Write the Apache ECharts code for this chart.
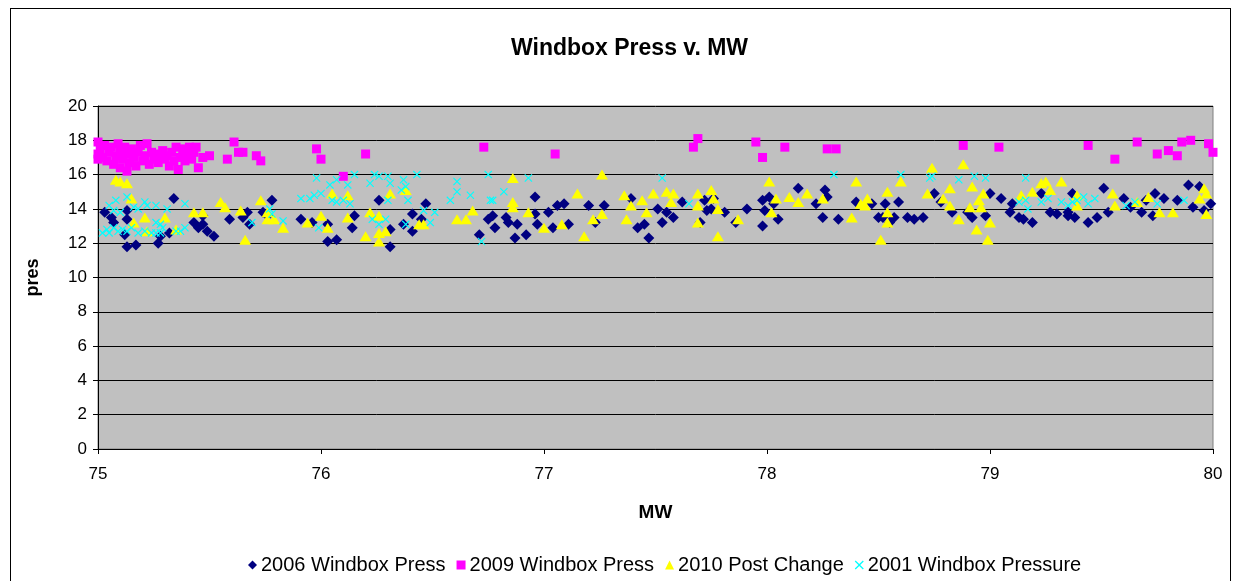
<!DOCTYPE html>
<html>
<head>
<meta charset="utf-8">
<script src="https://cdn.jsdelivr.net/npm/echarts@6/dist/echarts.min.js"></script>
<style>
  html, body { margin: 0; padding: 0; background: #fff; }
  #frame { position: absolute; left: 10px; top: 8px; width: 1221px; height: 600px; border: 1px solid #000; box-sizing: border-box; }
  #chart { position: absolute; left: 0; top: 0; width: 1238px; height: 581px; }
</style>
</head>
<body>
<div id="frame"></div>
<div id="chart"></div>
<script>
  // [MW, pres] pairs
  let press2006 = [
    [75.03,13.8],[75.06,13.5],[75.07,13.2],[75.13,13.9],[75.13,13.4],[75.13,11.8],[75.17,11.9],[75.12,12.5],
    [75.27,12.0],[75.28,12.4],[75.32,12.6],[75.34,14.6],[75.43,13.2],[75.45,12.9],[75.47,13.1],[75.49,12.7],
    [75.52,12.4],[75.47,13.6],[75.59,13.4],[75.65,13.5],[75.67,13.8],[75.68,13.1],[75.74,13.8],[75.78,14.5],
    [75.76,13.6],[75.91,13.4],[75.96,13.2],[76.03,12.1],[76.07,12.2],[76.03,13.1],[76.15,13.6],[76.14,12.9],
    [76.26,14.5],[76.31,12.8],[76.31,11.8],[76.37,13.1],[76.41,13.7],[76.41,12.7],[76.47,14.3],[76.45,13.4],
    [76.71,12.5],[76.75,13.4],[76.77,13.6],[76.78,12.9],[76.83,13.5],[76.84,13.2],[76.87,12.3],[76.88,13.1],
    [76.92,12.5],[76.96,14.7],[76.96,13.7],[76.97,13.1],[77.02,13.8],[77.04,12.9],[77.06,14.2],[77.09,14.3],
    [77.11,13.1],[77.2,14.2],[77.27,14.2],[77.23,13.2],[77.39,14.6],[77.42,12.9],[77.45,13.1],[77.47,12.3],
    [77.51,14.0],[77.55,13.8],[77.58,13.5],[77.53,13.2],[77.62,14.4],[77.72,14.5],[77.76,14.6],[77.73,13.9],
    [77.75,14.0],[77.81,13.8],[77.7,13.2],[77.86,13.2],[77.91,14.0],[77.98,14.5],[77.99,13.9],[77.98,13.0],
    [78.01,14.7],[78.03,14.3],[78.05,13.4],[78.14,15.2],[78.22,14.3],[78.26,15.1],[78.27,14.7],[78.25,13.5],
    [78.32,13.4],[78.4,14.4],[78.47,14.3],[78.5,13.5],[78.53,14.3],[78.59,14.4],[78.52,13.5],[78.57,13.5],
    [78.55,13.2],[78.63,13.5],[78.66,13.4],[78.7,13.5],[78.75,14.9],[78.78,14.4],[78.83,13.8],[78.9,13.8],
    [78.92,13.5],[79.0,14.9],[79.05,14.6],[79.1,14.3],[79.09,13.8],[79.13,13.5],[79.15,13.4],[79.19,13.2],
    [79.23,14.9],[79.27,13.8],[79.3,13.7],[79.35,13.6],[79.37,14.9],[78.98,13.6],[79.35,13.8],[79.38,13.5],
    [79.44,13.2],[79.48,13.5],[79.51,15.2],[79.53,13.8],[79.6,14.6],[79.63,14.1],[79.68,13.8],[79.7,14.5],
    [79.74,14.9],[79.73,13.6],[79.78,14.6],[79.84,14.5],[79.89,15.4],[79.91,14.1],[79.94,15.3],[79.96,13.9],
    [79.99,14.3]
  ];
  let press2009 = [
    [75.0,17.9],[75.0,17.2],[75.0,16.9],[75.01,17.5],[75.02,17.0],[75.03,17.7],[75.04,16.8],[75.05,17.3],
    [75.06,17.6],[75.07,16.6],[75.08,17.1],[75.09,17.8],[75.1,16.4],[75.1,17.4],[75.11,16.9],[75.12,17.6],
    [75.13,16.2],[75.13,17.2],[75.14,16.7],[75.15,17.5],[75.16,17.0],[75.17,16.5],[75.18,17.3],[75.19,17.7],
    [75.2,16.8],[75.21,17.1],[75.22,17.8],[75.23,16.6],[75.24,17.3],[75.25,16.9],[75.26,17.2],[75.27,16.7],
    [75.28,17.0],[75.29,17.4],[75.3,16.9],[75.31,17.1],[75.32,16.5],[75.33,17.3],[75.34,16.8],[75.35,17.6],
    [75.36,16.3],[75.37,17.0],[75.38,17.5],[75.39,16.8],[75.4,17.2],[75.41,17.6],[75.42,16.9],[75.43,17.3],
    [75.44,17.6],[75.45,16.4],[75.47,17.0],[75.5,17.1],[75.58,16.9],[75.61,17.9],[75.63,17.3],[75.65,17.3],
    [75.71,17.1],[75.73,16.8],[75.98,17.5],[76.0,16.9],[76.1,15.9],[76.2,17.2],[76.73,17.6],[77.05,17.2],
    [77.67,17.6],[77.69,18.1],[77.95,17.9],[77.98,17.0],[78.08,17.6],[78.27,17.5],[78.31,17.5],[78.88,17.7],
    [79.04,17.6],[79.44,17.7],[79.56,16.9],[79.66,17.9],[79.75,17.2],[79.8,17.4],[79.84,17.1],[79.86,17.9],
    [79.9,18.0],[79.98,17.8],[80.0,17.3]
  ];
  let post2010 = [
    [75.08,15.7],[75.1,15.6],[75.13,15.5],[75.15,14.6],[75.16,13.2],[75.21,13.5],[75.3,13.5],[75.22,12.7],
    [75.35,12.8],[75.43,13.8],[75.47,13.8],[75.55,14.4],[75.57,14.1],[75.64,13.9],[75.66,12.2],[75.73,14.5],
    [75.76,13.4],[75.79,13.4],[75.83,12.9],[75.76,13.8],[75.94,13.2],[76.0,13.6],[76.03,12.9],[76.05,14.9],
    [76.12,14.8],[76.12,13.5],[76.2,12.4],[76.22,13.8],[76.26,13.6],[76.26,12.6],[76.26,12.1],[76.29,12.7],
    [76.31,14.9],[76.38,15.1],[76.44,13.1],[76.46,13.1],[76.61,13.4],[76.65,13.4],[76.68,13.9],[76.86,15.8],
    [76.86,14.4],[76.86,14.1],[76.93,13.8],[77.0,12.9],[77.08,13.1],[77.15,14.9],[77.18,12.4],[77.22,13.4],
    [77.26,13.7],[77.26,16.0],[77.36,14.8],[77.37,13.4],[77.39,14.2],[77.44,14.5],[77.46,13.8],[77.49,14.9],
    [77.55,15.0],[77.58,14.9],[77.57,14.4],[77.69,14.9],[77.75,15.1],[77.69,14.2],[77.76,14.6],[77.78,14.0],
    [77.69,13.2],[77.78,12.4],[77.87,13.4],[78.01,15.6],[78.04,14.6],[78.02,13.8],[78.1,14.7],[78.14,14.4],
    [78.18,14.9],[78.25,14.6],[78.38,13.5],[78.4,15.6],[78.42,14.3],[78.44,14.2],[78.45,14.6],[78.51,12.2],
    [78.54,15.0],[78.54,13.8],[78.54,13.2],[78.6,15.6],[78.72,14.9],[78.74,16.4],[78.79,14.6],[78.82,15.2],
    [78.82,14.2],[78.86,13.4],[78.88,16.6],[78.92,15.3],[78.91,14.1],[78.94,12.8],[78.95,14.5],[78.97,14.9],
    [78.96,14.1],[78.99,12.2],[79.0,13.2],[79.14,14.8],[79.19,15.0],[79.23,15.5],[79.25,15.6],[79.27,15.1],
    [79.32,15.6],[79.39,14.8],[79.39,14.2],[79.55,14.9],[79.56,14.2],[79.66,14.4],[79.71,14.7],[79.76,13.8],
    [79.82,13.8],[79.94,14.6],[79.96,15.2],[79.97,14.9],[79.97,13.7]
  ];
  let press2001 = [
    [75.02,12.6],[75.04,12.8],[75.05,12.6],[75.07,12.9],[75.09,12.7],[75.11,12.8],[75.13,12.7],[75.15,12.9],
    [75.18,12.6],[75.21,12.7],[75.24,12.6],[75.26,13.2],[75.28,13.1],[75.29,12.9],[75.35,12.7],[75.37,12.7],
    [75.39,12.9],[75.05,14.2],[75.08,14.5],[75.07,13.9],[75.1,13.8],[75.13,14.7],[75.16,14.1],[75.18,14.0],
    [75.21,14.4],[75.22,14.2],[75.26,14.2],[75.31,14.0],[75.39,14.3],[75.26,12.6],[75.28,12.6],[75.77,14.0],
    [75.78,13.7],[75.83,13.3],[75.69,13.2],[75.98,15.8],[75.91,14.6],[75.95,14.6],[75.97,14.8],[76.0,14.9],
    [76.04,15.4],[76.07,15.7],[76.12,15.4],[76.15,16.0],[76.05,14.5],[76.07,14.4],[76.1,14.5],[76.13,14.3],
    [76.22,15.5],[76.24,16.0],[76.26,15.9],[76.3,15.9],[76.31,15.5],[76.37,15.7],[76.36,15.1],[76.38,15.3],
    [76.43,16.0],[76.3,14.5],[76.39,14.5],[76.23,13.4],[76.29,13.4],[76.26,13.1],[76.38,13.1],[76.46,13.9],
    [76.51,13.8],[76.49,13.2],[75.99,12.9],[76.58,14.5],[76.61,15.0],[76.61,15.6],[76.67,14.8],[76.72,12.1],
    [76.75,16.0],[76.76,14.5],[76.77,14.5],[76.82,15.0],[76.93,15.8],[77.53,15.8],[77.65,14.3],[78.3,16.0],
    [78.6,16.0],[78.73,15.8],[78.74,15.9],[78.86,15.7],[78.93,15.9],[78.98,15.8],[79.16,15.8],[79.13,14.4],
    [79.16,14.5],[79.17,14.0],[79.23,14.4],[79.26,14.6],[79.32,14.4],[79.35,14.2],[79.37,14.4],[79.39,14.5],
    [79.42,14.7],[79.44,14.3],[79.47,14.6],[79.61,14.2],[79.65,14.4],[79.75,14.3],[79.87,14.5]
  ];
  let seriesNames = ['2006 Windbox Press', '2009 Windbox Press', '2010 Post Change', '2001 Windbox Pressure'];

  let crossPath = 'path://M0,1L1,0L5,4L9,0L10,1L6,5L10,9L9,10L5,6L1,10L0,9L4,5Z';
  let font = 'Liberation Sans, Arial, sans-serif';

  let windboxChart = echarts.init(document.getElementById('chart'));
  windboxChart.setOption({
    animation: false,
    textStyle: { fontFamily: font },
    title: {
      text: 'Windbox Press v. MW',
      left: 506,
      top: 32,
      textStyle: { fontSize: 23, fontWeight: 'bold', color: '#000', fontFamily: font }
    },
    grid: {
      left: 98, right: 25, top: 106, bottom: 132,
      show: true,
      backgroundColor: '#C0C0C0',
      borderColor: '#808080',
      borderWidth: 1
    },
    legend: {
      bottom: 1,
      left: 243,
      itemWidth: 9,
      itemHeight: 9,
      itemGap: 11,
      textStyle: { fontSize: 20, color: '#000', fontFamily: font, padding: [0, 0, 0, -1] },
      data: seriesNames
    },
    xAxis: {
      type: 'value',
      min: 75, max: 80, interval: 1,
      name: 'MW',
      nameLocation: 'middle',
      nameGap: 54,
      nameTextStyle: { fontSize: 19, fontWeight: 'bold', color: '#000' },
      axisLine: { lineStyle: { color: '#000', width: 1 } },
      axisTick: { length: 5, lineStyle: { color: '#000' } },
      axisLabel: { fontSize: 17, color: '#000', margin: 17 },
      splitLine: { show: false }
    },
    yAxis: {
      type: 'value',
      min: 0, max: 20, interval: 2,
      name: 'pres',
      nameLocation: 'middle',
      nameGap: 56,
      nameTextStyle: { fontSize: 18, fontWeight: 'bold', color: '#000' },
      axisLine: { show: true, lineStyle: { color: '#000', width: 1 } },
      axisTick: { show: true, length: 5, lineStyle: { color: '#000' } },
      axisLabel: { fontSize: 17, color: '#000', margin: 11 },
      splitLine: { show: true, lineStyle: { color: '#000', width: 1 } }
    },
    series: [
      {
        name: seriesNames[0], type: 'scatter', data: press2006,
        symbol: 'diamond', symbolSize: [11, 11],
        itemStyle: { color: '#000080', opacity: 1 }
      },
      {
        name: seriesNames[1], type: 'scatter', data: press2009,
        symbol: 'rect', symbolSize: 9,
        itemStyle: { color: '#FF00FF', opacity: 1 }
      },
      {
        name: seriesNames[2], type: 'scatter', data: post2010,
        symbol: 'triangle', symbolSize: [12, 10],
        itemStyle: { color: '#FFFF00', opacity: 1 }
      },
      {
        name: seriesNames[3], type: 'scatter', data: press2001,
        symbol: crossPath, symbolSize: 8,
        itemStyle: { color: '#00FFFF', opacity: 1 }
      }
    ]
  });
</script>
</body>
</html>
